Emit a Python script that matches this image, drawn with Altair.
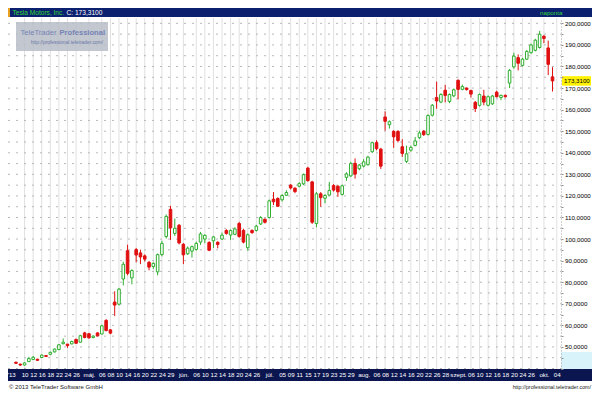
import json
import altair as alt
import pandas as pd

# ---- data ----
day_idx = list(range(126))
opens = [42.9, 42.0, 41.6, 43.2, 44.2, 44.3, 45.1, 46.0, 46.6, 47.7,
         48.8, 51.5, 51.3, 51.4, 53.5, 52.2, 56.5, 56.1, 54.4, 56.5,
         56.0, 62.3, 57.9, 70.8, 69.8, 81.5, 94.6, 82.0, 95.1, 93.6,
         92.2, 89.2, 87.3, 84.8, 92.8, 101.2, 113.8, 102.6, 106.4, 97.6,
         93.2, 94.4, 95.2, 98.6, 100.0, 98.4, 99.2, 98.5, 100.0, 104.0,
         101.9, 102.2, 107.2, 104.0, 96.0, 104.0, 104.0, 107.0, 109.2, 110.0,
         118.5, 118.8, 118.2, 120.3, 125.0, 123.6, 124.5, 125.6, 132.9, 126.5,
         107.2, 121.0, 118.9, 120.4, 124.8, 124.5, 120.7, 128.6, 129.3, 135.1,
         132.6, 133.8, 134.5, 140.5, 144.7, 141.7, 156.6, 153.0, 149.9, 149.9,
         142.8, 136.0, 141.2, 143.4, 147.0, 150.0, 148.5, 157.4, 165.6, 163.5,
         169.0, 163.8, 166.4, 173.6, 169.4, 170.0, 168.9, 163.4, 162.0, 166.3,
         162.0, 162.7, 168.1, 165.6, 166.6, 172.3, 179.8, 184.1, 180.5, 183.4,
         186.4, 187.5, 188.8, 194.0, 188.6, 175.2]
highs = [43.2, 42.3, 42.9, 45.4, 45.8, 44.5, 46.5, 46.2, 47.8, 49.3,
         51.3, 53.9, 51.4, 52.9, 53.8, 55.6, 57.0, 56.5, 55.4, 56.8,
         60.3, 62.9, 58.3, 75.8, 77.3, 89.5, 97.4, 86.0, 95.9, 95.1,
         92.9, 89.9, 89.2, 93.3, 99.2, 111.4, 115.4, 109.5, 107.0, 98.1,
         96.6, 97.0, 98.8, 103.3, 102.2, 99.0, 101.4, 99.0, 103.0, 104.6,
         104.5, 105.5, 108.0, 104.8, 102.6, 104.5, 106.6, 110.6, 109.6, 118.3,
         121.8, 119.4, 120.8, 122.6, 125.5, 124.0, 126.3, 130.4, 133.5, 127.0,
         121.8, 121.8, 120.8, 126.5, 125.5, 125.0, 125.3, 131.0, 135.8, 137.4,
         134.8, 137.0, 138.6, 145.2, 145.8, 142.3, 159.2, 155.0, 150.5, 150.5,
         146.3, 143.3, 143.3, 147.3, 150.2, 150.6, 157.8, 162.6, 173.0, 167.6,
         171.5, 167.5, 169.8, 174.0, 171.6, 170.3, 169.2, 164.0, 167.5, 169.2,
         166.6, 166.8, 168.8, 167.0, 167.0, 178.8, 186.4, 185.6, 184.0, 187.6,
         190.6, 192.8, 196.5, 194.6, 192.0, 179.7]
lows = [42.1, 41.3, 41.4, 43.0, 43.9, 43.6, 44.9, 45.3, 46.2, 47.4,
        48.5, 51.2, 49.6, 51.2, 51.4, 52.0, 54.0, 53.9, 54.0, 54.9,
        55.8, 57.2, 55.9, 64.3, 69.2, 78.5, 83.2, 79.0, 89.2, 88.4,
        89.6, 85.5, 86.2, 83.2, 92.0, 100.3, 99.6, 101.5, 97.5, 88.4,
        92.6, 91.4, 94.6, 97.3, 98.1, 94.4, 95.9, 95.7, 99.6, 102.0,
        99.6, 101.8, 100.6, 98.0, 94.6, 102.4, 103.5, 106.5, 107.2, 109.5,
        115.8, 115.0, 117.4, 120.0, 123.0, 121.3, 124.0, 125.0, 126.6, 107.0,
        105.5, 115.0, 116.6, 120.0, 122.0, 119.6, 120.2, 127.0, 128.8, 128.0,
        131.9, 133.2, 134.0, 139.9, 141.2, 132.5, 150.3, 151.2, 142.3, 144.8,
        138.1, 135.2, 140.5, 143.0, 146.4, 147.8, 148.0, 156.8, 160.4, 163.0,
        163.4, 163.0, 165.8, 164.8, 169.0, 168.8, 165.6, 158.9, 161.4, 162.0,
        161.5, 162.2, 165.6, 164.4, 165.6, 170.0, 179.0, 178.2, 180.0, 183.0,
        186.0, 187.0, 188.3, 190.8, 176.0, 168.4]
closes = [42.4, 41.6, 42.6, 44.6, 45.2, 43.8, 46.2, 45.6, 47.5, 49.0,
          51.0, 52.2, 50.6, 52.5, 51.7, 55.2, 54.4, 54.2, 55.0, 55.1,
          59.8, 57.6, 56.4, 69.4, 76.8, 88.3, 84.1, 85.4, 92.6, 91.7,
          90.7, 87.0, 88.7, 92.8, 98.0, 110.5, 105.2, 105.0, 98.2, 92.7,
          95.8, 96.5, 98.0, 102.4, 101.7, 94.8, 101.0, 97.5, 101.8, 102.6,
          104.0, 104.7, 101.2, 98.6, 102.0, 103.0, 106.0, 110.0, 107.8, 117.7,
          117.3, 115.2, 120.2, 121.6, 123.7, 122.0, 125.7, 129.9, 127.1, 107.8,
          121.0, 119.2, 120.2, 122.5, 122.7, 121.9, 124.7, 130.2, 135.0, 130.1,
          134.3, 135.8, 138.0, 144.7, 141.9, 133.8, 154.6, 154.4, 147.4, 145.7,
          139.7, 139.5, 142.5, 145.5, 149.2, 148.4, 157.3, 162.0, 164.0, 167.0,
          166.6, 167.0, 169.2, 169.4, 170.7, 169.3, 167.2, 160.5, 167.0, 163.5,
          166.0, 166.3, 166.0, 166.6, 166.0, 178.2, 184.8, 181.5, 183.4, 187.0,
          190.0, 192.2, 195.0, 193.0, 181.0, 173.31]

tick_idx = [-1.1, 2, 4, 6, 8, 10, 12, 14, 17, 20, 22, 24, 26, 28, 30, 32, 34, 36,
            39, 42, 44, 46, 48, 50, 52, 54, 56, 59, 62, 64, 66, 68, 70, 72, 74,
            76, 78, 81, 84, 86, 88, 90, 92, 94, 96, 98, 100, 103, 106, 108, 110,
            112, 114, 116, 118, 120, 123, 126]
tick_txt = ["'13", "10", "12", "16", "18", "22", "24", "26", "máj.", "06", "08",
            "10", "14", "16", "20", "22", "24", "29", "jún.", "06", "10", "12",
            "14", "18", "20", "24", "26", "júl.", "05", "09", "11", "15", "17",
            "19", "23", "25", "29", "aug.", "06", "08", "12", "14", "16", "20",
            "22", "26", "28", "szept.", "06", "10", "12", "16", "18", "20", "24",
            "26", "okt.", "04"]
price_ticks = list(range(40, 205, 5))
last_close = closes[-1]

# ---- layout ----
W, H = 553, 351          # plot area
PAD = {"left": 0, "top": 10, "right": 31, "bottom": 23}
FULLW = W + PAD["right"]
FONT = "Liberation Sans"
GREEN = "#2fae2f"
RED = "#e01010"
NAVY = "#0b1650"

df = pd.DataFrame({"i": day_idx, "open": opens, "high": highs,
                   "low": lows, "close": closes})
df["up"] = df["close"] >= df["open"]
df["lo"] = df[["open", "close"]].min(axis=1)
df["hi"] = df[["open", "close"]].max(axis=1)
df["x1"] = df["i"] - 0.3
df["x2"] = df["i"] + 0.3

xs = alt.Scale(domain=[-1.86, 126.98], nice=False, zero=False)
ys = alt.Scale(domain=[39.77, 202.48], nice=False, zero=False)

label_expr = (json.dumps(tick_txt, ensure_ascii=False) + "[indexof("
              + json.dumps(tick_idx) + ", datum.value)]")

xaxis = alt.Axis(values=tick_idx, labelExpr=label_expr, title=None,
                 orient="bottom", domain=False, ticks=False, grid=False,
                 labelColor="white", labelFont=FONT, labelFontSize=6.2,
                 labelPadding=2.5, labelOverlap=False, labelFlush=False,
                 labelBound=False, zindex=2)
yaxis = alt.Axis(values=price_ticks, orient="right", title=None, grid=False,
                 labelExpr="datum.value % 10 == 0 && datum.value >= 50 ? replace(format(datum.value, '.4f'), '.', ',') : ''",
                 labelFont=FONT, labelFontSize=6.2, labelColor="black",
                 labelPadding=1.5, tickSize=2, tickColor="#909090",
                 labelOverlap=False, labelFlush=False, labelBound=False,
                 domain=True, domainColor="#a0a0a0", domainDash=[1, 2],
                 zindex=2)

one = pd.DataFrame({"k": [0]})
vg_df = pd.DataFrame({"t": tick_idx[1:]})
hg_df = pd.DataFrame({"p": price_ticks})

band_right = alt.Chart(one).mark_rect(color="#d9f3fa").encode(
    x=alt.value(W), x2=alt.value(FULLW), y=alt.value(H - 17), y2=alt.value(H))

vgrid = alt.Chart(vg_df).mark_rule(color="#e0e0e0", strokeWidth=1).encode(
    x=alt.X("t:Q", scale=xs, axis=xaxis), y=alt.value(0), y2=alt.value(H))
hgrid = alt.Chart(hg_df).mark_rule(color="#b8b8b8", strokeWidth=1,
                                   strokeDash=[2, 6]).encode(
    y=alt.Y("p:Q", scale=ys, axis=yaxis), x=alt.value(0), x2=alt.value(W))

wick = alt.Chart(df).mark_rule(strokeWidth=1).encode(
    x=alt.X("i:Q", scale=xs, axis=xaxis),
    y=alt.Y("low:Q", scale=ys, axis=yaxis),
    y2="high:Q",
    color=alt.condition("datum.up", alt.value(GREEN), alt.value(RED)))

body = alt.Chart(df).mark_rect(strokeWidth=1).encode(
    x=alt.X("x1:Q", scale=xs, axis=xaxis), x2="x2:Q",
    y=alt.Y("lo:Q", scale=ys, axis=yaxis), y2="hi:Q",
    fill=alt.condition("datum.up", alt.value("white"), alt.value(RED)),
    stroke=alt.condition("datum.up", alt.value(GREEN), alt.value(RED)))

title_bar = alt.Chart(one).mark_rect(color="#0c2070").encode(
    x=alt.value(0), x2=alt.value(FULLW), y=alt.value(-PAD["top"]), y2=alt.value(-1))
title_strip = alt.Chart(one).mark_rect(color="#e8a020").encode(
    x=alt.value(0), x2=alt.value(2), y=alt.value(-PAD["top"]), y2=alt.value(-1))
title_name = alt.Chart(one).mark_text(text="Tesla Motors, Inc.", color="#33d633",
                                      font=FONT, fontSize=6.6, align="left",
                                      baseline="middle").encode(
    x=alt.value(4.5), y=alt.value(-5.5))
title_close = alt.Chart(one).mark_text(text="C: 173,3100", color="white",
                                       font=FONT, fontSize=6.6, align="left",
                                       baseline="middle").encode(
    x=alt.value(58.5), y=alt.value(-5.5))
title_freq = alt.Chart(one).mark_text(text="naponta", color="#33d633",
                                      font=FONT, fontSize=6.2, align="left",
                                      baseline="middle").encode(
    x=alt.value(532), y=alt.value(-5.5))

wm_box = alt.Chart(one).mark_rect(color="#b9bdc8", opacity=0.85).encode(
    x=alt.value(8), x2=alt.value(100), y=alt.value(4), y2=alt.value(33))
wm_t1 = alt.Chart(one).mark_text(text="TeleTrader", color="#7483b4",
                                 font=FONT, fontSize=7.6,
                                 align="left", baseline="middle").encode(
    x=alt.value(12.5), y=alt.value(15))
wm_t1b = alt.Chart(one).mark_text(text="Professional", color="#7483b4",
                                  font=FONT, fontSize=7.6, fontWeight="bold",
                                  align="left", baseline="middle").encode(
    x=alt.value(51.5), y=alt.value(15))
wm_t2 = alt.Chart(one).mark_text(text="http://professional.teletrader.com/",
                                 color="#6a78a8", font=FONT, fontSize=4.9,
                                 align="right", baseline="middle").encode(
    x=alt.value(95), y=alt.value(25))

band_bottom = alt.Chart(one).mark_rect(color=NAVY).encode(
    x=alt.value(0), x2=alt.value(FULLW), y=alt.value(H), y2=alt.value(H + 12))

last_df = pd.DataFrame({"v": [last_close], "v1": [last_close + 2.2],
                        "v2": [last_close - 2.2],
                        "t": ["173,3100"]})
last_box = alt.Chart(last_df).mark_rect(color="#fff200").encode(
    x=alt.value(W + 1), x2=alt.value(FULLW - 1),
    y=alt.Y("v1:Q", scale=ys, axis=yaxis), y2="v2:Q")
last_txt = alt.Chart(last_df).mark_text(font=FONT, fontSize=6.2, color="black",
                                        align="left", baseline="middle").encode(
    x=alt.value(W + 3), y=alt.Y("v:Q", scale=ys, axis=yaxis), text="t:N")

foot_l = alt.Chart(one).mark_text(text="© 2013 TeleTrader Software GmbH",
                                  color="#202020", font=FONT, fontSize=6,
                                  align="left", baseline="middle").encode(
    x=alt.value(1), y=alt.value(H + 17.5))
foot_r = alt.Chart(one).mark_text(text="http://professional.teletrader.com/",
                                  color="#202020", font=FONT, fontSize=5.3,
                                  align="right", baseline="middle").encode(
    x=alt.value(FULLW - 1), y=alt.value(H + 17.5))

chart = alt.layer(
    band_right, band_bottom, vgrid, hgrid, wm_box, wm_t1, wm_t1b, wm_t2,
    wick, body, last_box, last_txt, title_bar, title_strip, title_name,
    title_close, title_freq, foot_l, foot_r
).properties(
    width=W, height=H, padding=PAD,
    autosize=alt.AutoSizeParams(type="none"),
    background="white"
).configure_view(stroke=None)

chart.save("out.html", embed_options={"renderer": "svg", "actions": False})
